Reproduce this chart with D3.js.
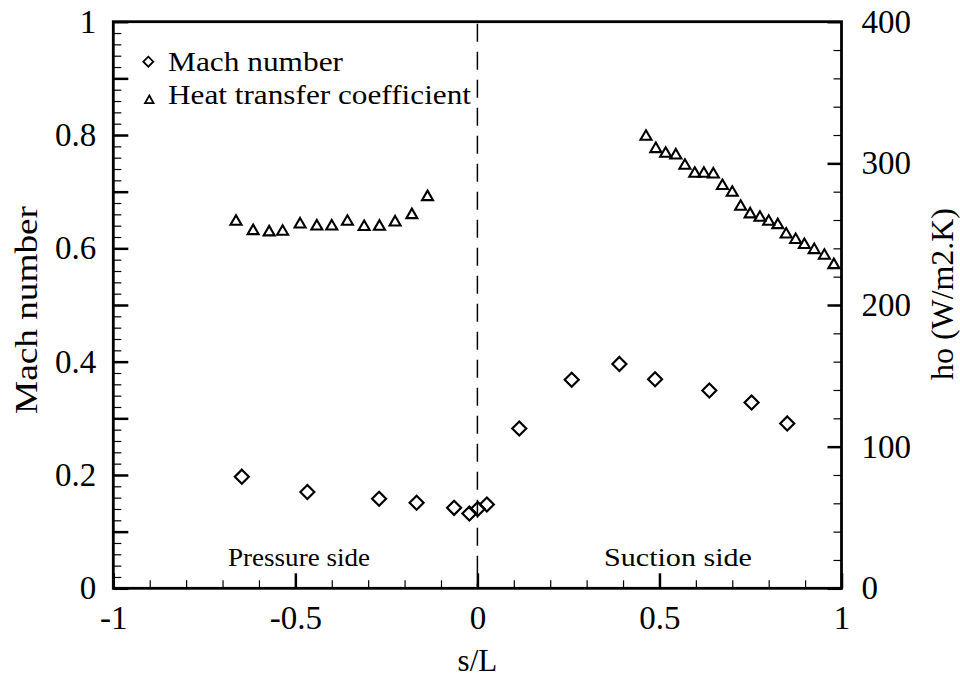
<!DOCTYPE html>
<html>
<head>
<meta charset="utf-8">
<script src="https://cdn.jsdelivr.net/npm/d3@7"></script>
<style>
  html, body { margin: 0; padding: 0; background: #fff; }
  svg { display: block; }
</style>
</head>
<body>
<svg id="chart" width="960" height="677"></svg>
<script>
// ---- data ----
const machS = [-0.647, -0.467, -0.270, -0.167, -0.064, -0.022, 0.001, 0.026,
               0.115, 0.259, 0.390, 0.488, 0.637, 0.753, 0.851];
const machValues = [0.197, 0.170, 0.158, 0.151, 0.142, 0.132, 0.140, 0.148,
                    0.282, 0.368, 0.396, 0.369, 0.349, 0.328, 0.291];

const hoS = [-0.663, -0.616, -0.572, -0.535, -0.487, -0.441, -0.400, -0.357, -0.311,
             -0.269, -0.226, -0.180, -0.137,
             0.463, 0.490, 0.517, 0.545, 0.570, 0.597, 0.622, 0.648, 0.673, 0.700,
             0.723, 0.749, 0.776, 0.800, 0.825, 0.848, 0.874, 0.898, 0.925, 0.953, 0.979];
const hoValues = [260.0, 253.4, 252.5, 252.9, 258.1, 256.7, 256.7, 260.0, 256.3,
                  256.5, 259.5, 264.7, 277.4,
                  320.0, 311.3, 308.0, 306.8, 299.5, 293.9, 293.9, 293.4, 285.2, 280.5,
                  270.6, 265.2, 262.8, 260.0, 257.6, 251.0, 247.1, 243.6, 240.0, 236.0, 229.4];

const xTickValues = [-1, -0.5, 0, 0.5, 1];
const xTickLabels = ["-1", "-0.5", "0", "0.5", "1"];
const yLeftTickValues = [0, 0.2, 0.4, 0.6, 0.8, 1];
const yLeftTickLabels = ["0", "0.2", "0.4", "0.6", "0.8", "1"];
const yRightTickValues = [0, 100, 200, 300, 400];
const yRightTickLabels = ["0", "100", "200", "300", "400"];

const legendLabels = ["Mach number", "Heat transfer coefficient"];
const sideLabels = ["Pressure side", "Suction side"];
const xTitle = "s/L";
const yLeftTitle = "Mach number";
const yRightTitle = "ho (W/m2.K)";

// ---- layout ----
const FONT = '"Liberation Serif"';
const L = 113.3, R = 841.5, T = 21.7, B = 588.3;
const svg = d3.select("#chart");

const x = d3.scaleLinear().domain([-1, 1]).range([L, R]);
const yM = d3.scaleLinear().domain([0, 1]).range([B, T]);
const yH = d3.scaleLinear().domain([0, 400]).range([B, T]);

const range = (a, b, s) => d3.range(Math.round((b - a) / s) + 1).map(i => +(a + i * s).toFixed(4));

const minorX = range(-1, 1, 0.1);
const minorYL = range(0, 1, 0.02);
const minorYR = range(0, 400, 20);
const majorYL = range(0, 1, 0.1);

function styleAxis(g, width) {
  g.attr("font-family", null).attr("font-size", null);
  g.select(".domain").remove();
  g.selectAll(".tick line").attr("stroke", "#000").attr("stroke-width", width);
  g.selectAll(".tick text").style("font-family", FONT)
    .style("font-size", "33px").attr("fill", "#000");
}

// bottom axis
svg.append("g").attr("transform", `translate(0,${B})`)
  .call(d3.axisBottom(x).tickValues(minorX).tickSize(-8).tickFormat(""))
  .call(g => styleAxis(g, 1.2));
svg.append("g").attr("transform", `translate(0,${B})`)
  .call(d3.axisBottom(x).tickValues(xTickValues).tickSize(-15).tickPadding(17)
    .tickFormat((d, i) => xTickLabels[i]))
  .call(g => styleAxis(g, 2.5));

// left axis
svg.append("g").attr("transform", `translate(${L},0)`)
  .call(d3.axisLeft(yM).tickValues(minorYL).tickSize(-8).tickFormat(""))
  .call(g => styleAxis(g, 1.2));
svg.append("g").attr("transform", `translate(${L},0)`)
  .call(d3.axisLeft(yM).tickValues(majorYL).tickSize(-15).tickFormat(""))
  .call(g => styleAxis(g, 2.5));
svg.append("g").attr("transform", `translate(${L},0)`)
  .call(d3.axisLeft(yM).tickValues(yLeftTickValues).tickSize(0).tickPadding(17)
    .tickFormat((d, i) => yLeftTickLabels[i]))
  .call(g => styleAxis(g, 0));

// right axis
svg.append("g").attr("transform", `translate(${R},0)`)
  .call(d3.axisRight(yH).tickValues(minorYR).tickSize(-8).tickFormat(""))
  .call(g => styleAxis(g, 1.2));
svg.append("g").attr("transform", `translate(${R},0)`)
  .call(d3.axisRight(yH).tickValues(yRightTickValues).tickSize(-14).tickPadding(20)
    .tickFormat((d, i) => yRightTickLabels[i]))
  .call(g => styleAxis(g, 2.5));

// frame
svg.append("rect").attr("x", L).attr("y", T).attr("width", R - L).attr("height", B - T)
  .attr("fill", "none").attr("stroke", "#000").attr("stroke-width", 2.8);

// dashed line at s = 0
svg.append("line").attr("x1", x(0)).attr("x2", x(0)).attr("y1", T + 2).attr("y2", B - 2)
  .attr("stroke", "#000").attr("stroke-width", 1.5).attr("stroke-dasharray", "18,10");

// markers
const diamond = s => `M0,${-s}L${s},0L0,${s}L${-s},0Z`;
const triangle = (w, h) => `M0,${-h / 2}L${w / 2},${h / 2}L${-w / 2},${h / 2}Z`;

svg.append("g").selectAll("path").data(machS).join("path")
  .attr("transform", (d, i) => `translate(${x(d)},${yM(machValues[i])})`)
  .attr("d", diamond(7))
  .attr("fill", "none").attr("stroke", "#000").attr("stroke-width", 2.2);

svg.append("g").selectAll("path").data(hoS).join("path")
  .attr("transform", (d, i) => `translate(${x(d)},${yH(hoValues[i])})`)
  .attr("d", triangle(11, 9.5))
  .attr("fill", "none").attr("stroke", "#000").attr("stroke-width", 2.1)
  .attr("stroke-linejoin", "miter");

// legend markers
svg.append("path").attr("transform", "translate(148.3,61.7)").attr("d", diamond(5))
  .attr("fill", "none").attr("stroke", "#000").attr("stroke-width", 1.8);
svg.append("path").attr("transform", "translate(149.3,99.3)").attr("d", triangle(8.5, 7.5))
  .attr("fill", "none").attr("stroke", "#000").attr("stroke-width", 1.8);

function addText(str, px, py, size, len, anchor, rot) {
  const t = svg.append("text")
    .attr("transform", `translate(${px},${py})` + (rot ? ` rotate(${rot})` : ""))
    .attr("text-anchor", anchor || "start")
    .style("font-family", FONT)
    .style("font-size", size + "px")
    .attr("fill", "#000")
    .text(str);
  if (len) t.attr("textLength", len).attr("lengthAdjust", "spacingAndGlyphs");
  return t;
}

addText(legendLabels[0], 168, 71, 27, 175);
addText(legendLabels[1], 168, 104, 27, 303);

addText(sideLabels[0], 228, 566, 26, 142);
addText(sideLabels[1], 604, 566, 26, 148);

addText(xTitle, x(0), 671, 31, null, "middle");
addText(yLeftTitle, 37, 310, 31, 208, "middle", -90);
addText(yRightTitle, 953, 294, 31, 172, "middle", -90);
</script>
</body>
</html>
